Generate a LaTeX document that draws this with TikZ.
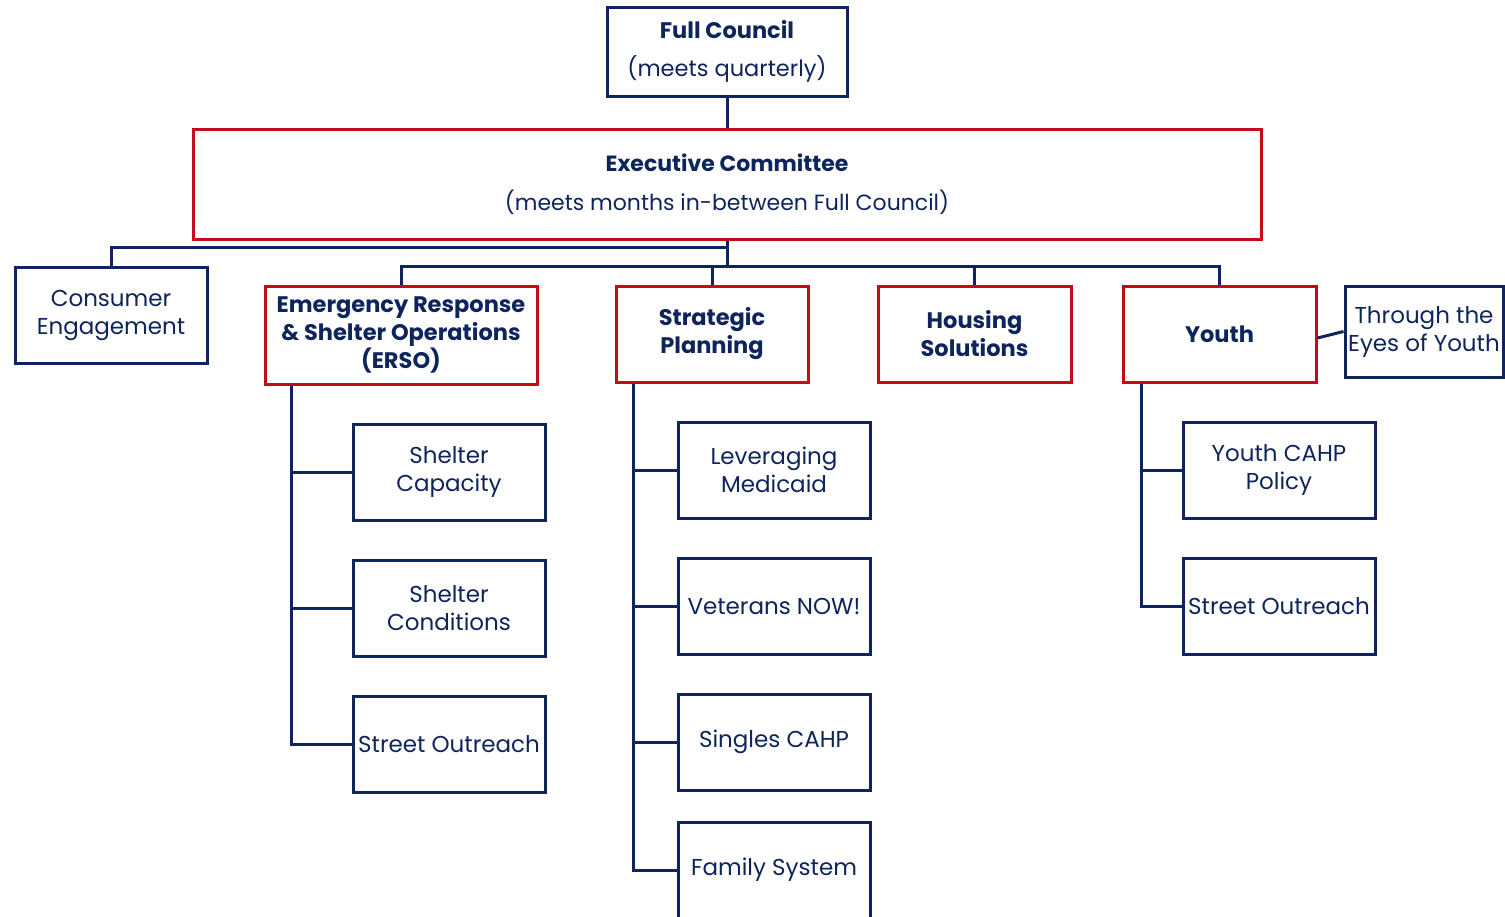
\documentclass[tikz,border=0pt]{standalone}
\usepackage{fontspec}
\setmainfont{Poppins}
\definecolor{navy}{RGB}{14,36,92}
\definecolor{rd}{RGB}{196,12,24}
\begin{document}
\begin{tikzpicture}[x=1pt,y=-1pt,
  box/.style={draw=navy,line width=3pt,text=navy,align=center,inner sep=0pt,font=\fontsize{23}{28}\selectfont},
  rbox/.style={box,draw=rd,font=\fontsize{22.5}{28}\selectfont\bfseries},
  conn/.style={draw=navy,line width=3pt}]
\useasboundingbox (0,0) rectangle (1505,916);
\clip (0,0) rectangle (1505,916);
% top level
\node[box,font=\fontsize{22.5}{28}\selectfont,minimum width=240pt,minimum height=89pt] (fc) at (727,51.5) {\textbf{Full Council}\\[10pt](meets quarterly)};
\node[rbox,font=\fontsize{22}{28}\selectfont,minimum width=1068pt,minimum height=110pt] (ex) at (727,184) {\textbf{Executive Committee}\\[11pt](meets months in-between Full Council)};
% second level
\node[box,minimum width=192pt,minimum height=96pt] (ce) at (111,315) {Consumer\\Engagement};
\node[rbox,minimum width=272pt,minimum height=98pt] (erso) at (401,335) {Emergency Response\\\& Shelter Operations\\(ERSO)};
\node[rbox,minimum width=192pt,minimum height=96pt] (sp) at (712,334) {Strategic\\Planning};
\node[rbox,minimum width=193pt,minimum height=96pt] (hs) at (974.5,334) {Housing\\Solutions};
\node[rbox,minimum width=193pt,minimum height=96pt] (yo) at (1219.5,334) {Youth};
\node[box,minimum width=158pt,minimum height=91pt] (tey) at (1424,331.5) {Through the\\Eyes of Youth};
% ERSO children
\node[box,minimum width=192pt,minimum height=96pt] (scap) at (449,472) {Shelter\\Capacity};
\node[box,minimum width=192pt,minimum height=96pt] (scon) at (449,608) {Shelter\\Conditions};
\node[box,minimum width=192pt,minimum height=96pt] (so1) at (449,744) {Street Outreach};
% Strategic children
\node[box,minimum width=192pt,minimum height=96pt] (lm) at (774,470) {Leveraging\\Medicaid};
\node[box,minimum width=192pt,minimum height=96pt] (vn) at (774,606) {Veterans NOW!};
\node[box,minimum width=192pt,minimum height=96pt] (sc) at (774,742) {Singles CAHP};
\node[box,minimum width=192pt,minimum height=96pt] (fs) at (774,870) {Family System};
% Youth children
\node[box,minimum width=192pt,minimum height=96pt] (ycp) at (1279,470) {Youth CAHP\\Policy};
\node[box,minimum width=192pt,minimum height=96pt] (so2) at (1279,606) {Street Outreach};
% connectors
\draw[conn] (fc.south) -- (ex.north);
\draw[conn] (ex.south) -- (ex.south |- 0,266);
\draw[conn] (ce.north) |- (ex.south |- 0,247);
\draw[conn] (erso.north) -- (erso.north |- 0,266) -- (yo.north |- 0,266) -- (yo.north);
\draw[conn] (sp.north) -- (sp.north |- 0,266);
\draw[conn] (hs.north) -- (hs.north |- 0,266);
\draw[conn] ([yshift=-4pt]yo.east) -- (tey.west);
\draw[conn] ([xshift=28pt]erso.south west) |- (so1.west);
\draw[conn] ([xshift=28pt]erso.south west) |- (scap.west);
\draw[conn] ([xshift=28pt]erso.south west) |- (scon.west);
\draw[conn] ([xshift=19pt]sp.south west) |- (fs.west);
\draw[conn] ([xshift=19pt]sp.south west) |- (lm.west);
\draw[conn] ([xshift=19pt]sp.south west) |- (vn.west);
\draw[conn] ([xshift=19pt]sp.south west) |- (sc.west);
\draw[conn] ([xshift=20pt]yo.south west) |- (so2.west);
\draw[conn] ([xshift=20pt]yo.south west) |- (ycp.west);
\end{tikzpicture}
\end{document}
